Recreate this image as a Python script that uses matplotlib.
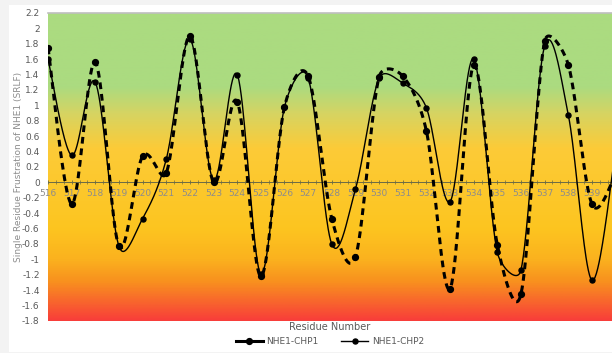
import numpy as np
import matplotlib
matplotlib.use('Agg')
import matplotlib.pyplot as plt
from matplotlib.colors import LinearSegmentedColormap
from matplotlib.lines import Line2D
from matplotlib.patches import Rectangle
from matplotlib.ticker import MultipleLocator, FuncFormatter

# Data
residues = list(range(516, 541))
chp1 = [1.75, -0.28, 1.56, -0.83, 0.34, 0.12, 1.9, 0.0, 1.05, -1.22, 0.98, 1.38, -0.47,
        -0.97, 1.37, 1.38, 0.67, -1.38, 1.52, -0.81, -1.45, 1.83, 1.53, -0.28, 0.1]
chp2 = [1.6, 0.35, 1.3, -0.83, -0.47, 0.3, 1.86, 0.03, 1.4, -1.19, 0.98, 1.36, -0.8,
        -0.09, 1.35, 1.29, 0.97, -0.25, 1.6, -0.91, -1.14, 1.77, 0.88, -1.27, 0.4]
series_names = ['NHE1-CHP1', 'NHE1-CHP2']

GRAY = '#595959'
FONT = 6.5
XMAX = 539.85
# screen scale (pixels per data unit) used for the smoothing, like a spreadsheet does
SX, SY = 23.65, 76.5


# spreadsheet style smoothed line: cubic Bezier, tension 1/6,
# control arm never longer than half of its segment
def smooth(x, y, steps=40):
    p = np.column_stack([np.asarray(x, float) * SX, np.asarray(y, float) * SY])
    n = len(p)
    cout = np.zeros_like(p)
    cin = np.zeros_like(p)
    for i in range(n):
        prev = p[max(i - 1, 0)]
        nxt = p[min(i + 1, n - 1)]
        tan = nxt - prev
        tl = np.hypot(*tan)
        if tl == 0:
            cout[i] = cin[i] = p[i]
            continue
        d_out = np.hypot(*(nxt - p[i]))
        d_in = np.hypot(*(p[i] - prev))
        cout[i] = p[i] + tan * min(1 / 6, 0.5 * d_out / tl)
        cin[i] = p[i] - tan * min(1 / 6, 0.5 * d_in / tl)
    t = np.linspace(0, 1, steps, endpoint=False)[:, None]
    pts = []
    for i in range(n - 1):
        a, b, c, d = p[i], cout[i], cin[i + 1], p[i + 1]
        pts.append((1 - t) ** 3 * a + 3 * (1 - t) ** 2 * t * b + 3 * (1 - t) * t ** 2 * c + t ** 3 * d)
    pts.append(p[-1:])
    pts = np.vstack(pts)
    return pts[:, 0] / SX, pts[:, 1] / SY


fig = plt.figure(figsize=(6.12, 3.53), dpi=100, facecolor='#f3f3f3')
fig.patches.append(Rectangle((9 / 612, 1 - 352 / 353), 603 / 612, 347 / 353,
                             transform=fig.transFigure, facecolor='white', edgecolor='none', zorder=-10))

ax = fig.add_axes([48 / 612, 1 - 321 / 353, 1 - 48 / 612, (321 - 13) / 353])
ax.set_zorder(1)
ax.set_xlim(516, XMAX)
ax.set_ylim(-1.8, 2.2)

# background gradient by value
stops = [(-1.8, '#f83e3a'), (-1.3, '#f8901f'), (-1.0, '#fbb21e'), (-0.6, '#fdc520'),
         (0.45, '#fccb38'), (0.9, '#d6d462'), (1.25, '#abdb80'), (2.2, '#abdb80')]
cmap = LinearSegmentedColormap.from_list('bg', [((v + 1.8) / 4.0, c) for v, c in stops])
grad = np.linspace(0, 1, 400).reshape(-1, 1)
ax.imshow(grad, cmap=cmap, origin='lower', aspect='auto',
          extent=[516, XMAX, -1.8, 2.2], zorder=0)

sx, sy = smooth(residues, chp1)
ax.plot(sx, sy, color='black', lw=2.2, linestyle=(0, (2.2, 1.6)), zorder=3)
ax.plot(residues, chp1, 'o', color='black', markersize=4.2, zorder=4)

sx, sy = smooth(residues, chp2)
ax.plot(sx, sy, color='black', lw=1.0, zorder=3)
ax.plot(residues, chp2, 'o', color='black', markersize=3.6, zorder=4)

# axes styling: x axis crosses at zero
for s in ['right', 'left']:
    ax.spines[s].set_visible(False)
ax.spines['top'].set_color('#bfbfbf')
ax.spines['top'].set_linewidth(1.2)
ax.spines['bottom'].set_position(('data', 0))
ax.spines['bottom'].set_color('#6b6b45')
ax.spines['bottom'].set_linewidth(0.7)
ax.spines['bottom'].set_zorder(2)

ax.xaxis.set_major_locator(MultipleLocator(1))
ax.xaxis.set_minor_locator(MultipleLocator(1 / 3))
ax.xaxis.set_major_formatter(FuncFormatter(lambda v, p: '%d' % round(v)))
ax.tick_params(axis='x', which='major', direction='inout', length=3, width=0.6,
               color='#6b6b45', labelsize=FONT, labelcolor='#8c8c8c', pad=3)
ax.tick_params(axis='x', which='minor', direction='inout', length=2.5, width=0.5, color='#6b6b45')

ax.yaxis.set_major_locator(MultipleLocator(0.2))
ax.yaxis.set_major_formatter(FuncFormatter(lambda v, p: '%g' % round(v, 1) if abs(v) > 1e-9 else '0'))
ax.tick_params(axis='y', length=0, labelsize=FONT, labelcolor=GRAY, pad=6)

fig.text(0.03, 1 - 167 / 353, 'Single Residue Frustration of NHE1 (SRLF)', rotation=90,
         ha='center', va='center', fontsize=FONT, color='#8c8c8c')
fig.text(330 / 612, 1 - 327 / 353, 'Residue Number', ha='center', va='center',
         fontsize=FONT + 0.5, color=GRAY)

handles = [Line2D([], [], color='black', lw=2.2, marker='o', markersize=4.2),
           Line2D([], [], color='black', lw=1.0, marker='o', markersize=3.6)]
fig.legend(handles, series_names, loc='center', bbox_to_anchor=(330 / 612, 1 - 342 / 353),
           ncol=2, frameon=False, fontsize=FONT, labelcolor=GRAY, handlelength=3,
           columnspacing=2.5, handletextpad=0.4)

fig.savefig('out.png', dpi=100, facecolor=fig.get_facecolor())
